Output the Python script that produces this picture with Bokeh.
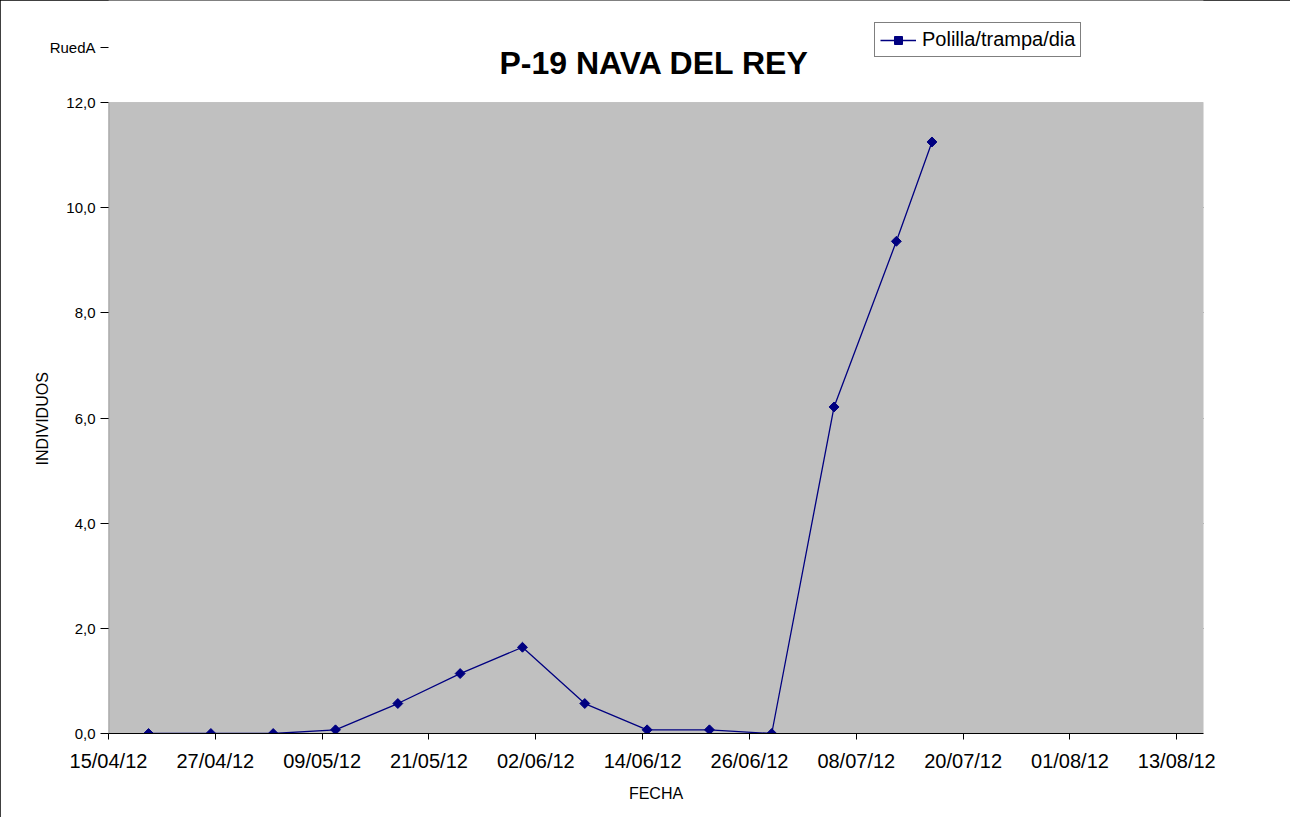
import math
from datetime import datetime
from bokeh.plotting import figure
from bokeh.models import (Range1d, FixedTicker, Label, Legend, LegendItem, BoxAnnotation,
                          Title)
from bokeh.embed import file_html
from bokeh.resources import INLINE

# ---- data ----
dates = ["19/04/12", "26/04/12", "03/05/12", "10/05/12", "17/05/12", "24/05/12",
         "31/05/12", "07/06/12", "14/06/12", "21/06/12", "28/06/12", "05/07/12",
         "12/07/12", "16/07/12"]
polilla = [0.0, 0.0, 0.0, 0.07, 0.57, 1.14, 1.64, 0.57, 0.07, 0.07, 0.0, 6.21, 9.36, 11.25]
x_tick_labels = ["15/04/12", "27/04/12", "09/05/12", "21/05/12", "02/06/12", "14/06/12",
                 "26/06/12", "08/07/12", "20/07/12", "01/08/12", "13/08/12"]
y_ticks = [0, 2, 4, 6, 8, 10, 12]
y_tick_labels = ["0,0", "2,0", "4,0", "6,0", "8,0", "10,0", "12,0"]
axis_start = "15/04/12"
axis_end = "16/08/12"
y_max = 12
series_name = "Polilla/trampa/dia"
title_text = "P-19 NAVA DEL REY"
x_label = "FECHA"
y_label = "INDIVIDUOS"
logo_text = "RuedA"

FMT = "%d/%m/%y"
base = datetime.strptime(axis_start, FMT)


def day(s):
    return (datetime.strptime(s, FMT) - base).days


xs = [day(d) for d in dates]
x_ticks = [day(t) - 0.5 for t in x_tick_labels]
x0, x1 = day(axis_start) - 0.5, day(axis_end) - 0.5

FONT = "Liberation Sans"
NAVY = "#000080"
W, H = 1290, 817
LEFT, RIGHT, BOTTOM = 108, 87, 84
PLOT_TOP = 102                      # pixel row of the gray area's top edge
FRAME_BOTTOM = H - BOTTOM           # pixel row of the x axis
# the frame reaches the top of the canvas, the gray plot area stops at y_max
y_top = y_max * FRAME_BOTTOM / (FRAME_BOTTOM - PLOT_TOP)


def sx(px):
    return px - LEFT


def sy(py):
    return FRAME_BOTTOM - py


def y_at(py):
    return (FRAME_BOTTOM - py) * y_max / (FRAME_BOTTOM - PLOT_TOP)


p = figure(width=W, height=H, output_backend="svg", toolbar_location=None,
           x_range=Range1d(x0, x1), y_range=Range1d(0, y_top),
           min_border_left=LEFT, min_border_right=RIGHT, min_border_top=0,
           min_border_bottom=BOTTOM)
p.title.text = ""
p.background_fill_color = "white"
p.border_fill_color = "white"
p.outline_line_color = None
p.styles = {"outline": "1px solid black", "outline-offset": "-1px"}

# gray plot area
p.add_layout(BoxAnnotation(left=x0, right=x1, bottom=0, top=y_max,
                           fill_color="#C0C0C0", fill_alpha=1,
                           line_color="#808080", line_width=1, level="underlay"))
# black left edge of the plot area (value axis line)
p.add_layout(BoxAnnotation(left=x0, right=x0, bottom=0, top=y_max,
                           fill_alpha=0, line_color="black", line_width=1.5))

# axes
logo_y = y_at(47)
p.xaxis.ticker = FixedTicker(ticks=x_ticks)
p.xaxis.major_label_overrides = {t: l for t, l in zip(x_ticks, x_tick_labels)}
p.yaxis.ticker = FixedTicker(ticks=y_ticks + [logo_y])
overrides = {t: l for t, l in zip(y_ticks, y_tick_labels)}
overrides[logo_y] = logo_text
p.yaxis.major_label_overrides = overrides
p.yaxis.axis_line_color = None
p.xaxis.axis_line_color = "black"
for ax in (p.xaxis, p.yaxis):
    ax.major_tick_line_color = "black"
    ax.major_tick_in = 0
    ax.minor_tick_line_color = None
    ax.major_label_text_font = FONT
    ax.major_label_text_color = "black"
    ax.axis_label_text_font = FONT
    ax.axis_label_text_font_size = "16px"
    ax.axis_label_text_font_style = "normal"
    ax.axis_label_text_color = "black"
p.xaxis.major_tick_out = 6
p.yaxis.major_tick_out = 8
p.xaxis.major_label_text_font_size = "20px"
p.yaxis.major_label_text_font_size = "15px"
p.xaxis.axis_label = x_label
p.xaxis.major_label_standoff = 10
p.xaxis.axis_label_standoff = 10
p.yaxis.major_label_standoff = 5

# value-axis title, positioned along the gray area
p.add_layout(Title(text=y_label, align="left", vertical_align="bottom",
                   offset=FRAME_BOTTOM - 465, standoff=-8,
                   text_font=FONT, text_font_size="16px", text_font_style="normal",
                   text_color="black"), "left")

p.xgrid.grid_line_color = None
p.ygrid.ticker = FixedTicker(ticks=y_ticks[1:-1])
p.ygrid.grid_line_color = "black"
p.ygrid.grid_line_width = 1
p.ygrid.level = "image"

ln = p.line(xs, polilla, line_color=NAVY, line_width=1.3)
sc = p.scatter(xs, polilla, marker="square", angle=math.pi / 4, size=7,
               fill_color=NAVY, line_color=NAVY)

# chart title
p.add_layout(Label(x=sx(654), y=sy(62), x_units="screen", y_units="screen",
                   text=title_text, text_font=FONT, text_font_size="32px",
                   text_font_style="bold", text_color="black",
                   text_align="center", text_baseline="alphabetic"))

# legend
legend = Legend(items=[LegendItem(label=series_name, renderers=[ln, sc])],
                location=(sx(874), sy(57)), orientation="vertical")
legend.label_text_font = FONT
legend.label_text_font_size = "20px"
legend.label_text_color = "black"
legend.border_line_color = "black"
legend.border_line_width = 1
legend.background_fill_color = "white"
legend.background_fill_alpha = 1
legend.padding = 5
legend.margin = 0
legend.spacing = 0
legend.glyph_width = 36
legend.label_standoff = 6
p.add_layout(legend, "center")

open("out.html", "w").write(file_html(p, INLINE))
